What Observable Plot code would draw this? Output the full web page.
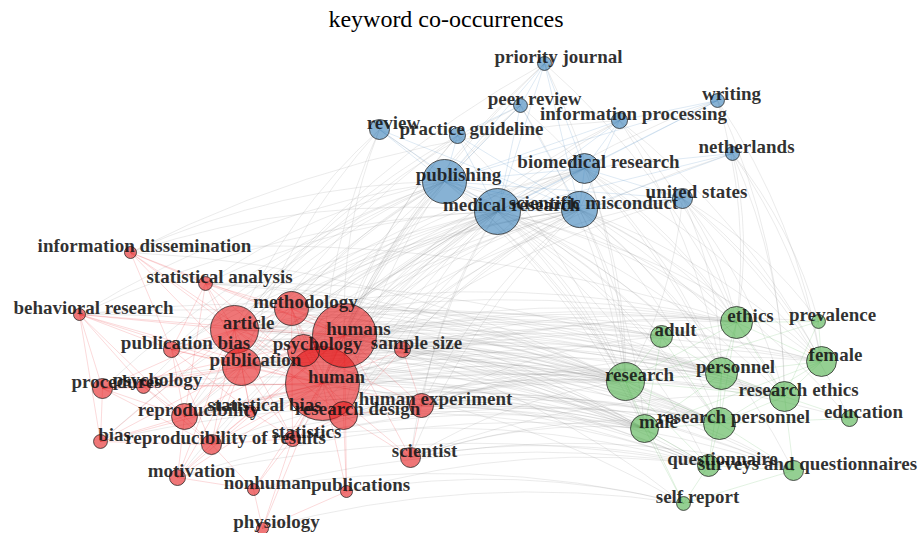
<!DOCTYPE html>
<html>
<head>
<meta charset="utf-8">
<script src="https://cdn.jsdelivr.net/npm/d3@7"></script>
<script src="https://cdn.jsdelivr.net/npm/@observablehq/plot@0.6"></script>
<style>
  html, body { margin: 0; padding: 0; background: #fff; }
  #title { width: 921px; height: 38px; line-height: 38px; box-sizing: border-box; padding-right: 29px;
           text-align: center; font-family: "Liberation Serif", "Times New Roman", serif; font-size: 24px; color: #000; }
  #chart svg { display: block; }
</style>
</head>
<body>
<div id="title">keyword co-occurrences</div>
<div id="chart"></div>
<script>
// ---- data ----
const keywords = [
  "priority journal","peer review","writing","information processing","review","practice guideline",
  "publishing","biomedical research","netherlands","united states","medical research","scientific misconduct",
  "information dissemination","statistical analysis","behavioral research","article","methodology","humans",
  "publication bias","psychology","sample size","publication","human","procedures","psychology",
  "human experiment","research design","statistical bias","reproducibility","statistics","bias",
  "reproducibility of results","scientist","motivation","nonhuman","publications","physiology",
  "adult","ethics","prevalence","female","personnel","research","research ethics","education","male",
  "research personnel","questionnaire","surveys and questionnaires","self report"
];
const cluster = [
  1,1,1,1,1,1,1,1,1,1,1,1,
  2,2,2,2,2,2,2,2,2,2,2,2,2,2,2,2,2,2,2,2,2,2,2,2,2,
  3,3,3,3,3,3,3,3,3,3,3,3,3
];
// layout coordinates from the network layout
const layoutX = [
  544,520,717,619,379,457,444,584,732,682,497,579,
  130,205,79,234,291,344,171,303,402,241,322,102,143,421,343,250,184,292,100,211,410,177,253,346,262,
  661,736,818,821,721,625,784,849,644,719,708,793,683
];
const layoutY = [
  63,105,100,120,129,135,181,168,153,198,211,209,
  252,283,314,329,308,335,349,350,349,366,383,388,386,405,415,411,416,438,441,444,457,477,489,491,528,
  336,322,321,361,373,381,396,418,428,423,465,470,503
];
const occurrences = [
  12,12,12,16,25,16,121,56,12,25,132,81,
  9,12,9,144,72,256,16,64,16,90,342,25,12,36,49,9,42,16,12,25,25,16,9,9,9,
  30,64,12,56,64,90,56,16,49,64,30,25,12
];
const links = [
  // cluster 1
  [0,1],[0,6],[0,10],[0,11],[0,7],[1,6],[1,10],[1,11],[1,5],[2,3],[2,7],[2,10],[2,6],[3,7],[3,10],[3,6],[3,11],
  [4,6],[4,10],[4,11],[5,6],[5,10],[5,11],[6,7],[6,10],[6,11],[6,9],[7,10],[7,11],[7,9],[8,10],[8,11],[8,7],
  [9,10],[9,11],[10,11],
  // cluster 2
  [12,15],[12,21],[12,22],[12,17],[12,13],[12,18],[13,15],[13,21],[13,22],[13,17],[13,16],[13,18],[13,28],
  [14,15],[14,21],[14,22],[14,17],[14,18],[14,23],[14,24],[14,28],[14,30],
  [15,16],[15,17],[15,18],[15,19],[15,21],[15,22],[15,23],[15,24],[15,26],[15,27],[15,28],[15,29],[15,30],[15,31],[15,33],
  [16,17],[16,19],[16,21],[16,22],[16,26],[16,20],[16,29],
  [17,19],[17,20],[17,21],[17,22],[17,25],[17,26],[17,27],[17,28],[17,29],[17,31],[17,32],[17,33],[17,35],[17,23],
  [18,21],[18,22],[18,28],[18,27],[18,31],[19,21],[19,22],[19,26],[19,25],[20,22],[20,26],[20,25],
  [21,22],[21,23],[21,24],[21,27],[21,28],[21,29],[21,31],[21,33],[21,30],
  [22,23],[22,24],[22,25],[22,26],[22,27],[22,28],[22,29],[22,31],[22,32],[22,33],[22,34],[22,35],[22,36],[22,30],
  [23,24],[23,28],[23,30],[23,31],[24,28],[24,31],[25,26],[25,32],[26,29],[26,32],[26,35],[27,28],[27,29],[27,31],
  [28,31],[28,30],[28,33],[29,31],[29,34],[29,36],[30,31],[31,33],[31,34],[33,34],[34,36],[35,36],
  // cluster 3
  [37,38],[37,42],[37,41],[37,45],[37,46],[38,41],[38,42],[38,40],[38,43],[38,46],[38,39],[39,40],[39,43],[39,42],
  [40,41],[40,43],[40,46],[40,45],[41,42],[41,43],[41,45],[41,46],[41,47],[42,45],[42,46],[42,47],[42,43],
  [43,46],[43,44],[43,48],[44,46],[45,46],[45,47],[45,49],[46,47],[46,48],[47,48],[47,49],[48,49],[42,49],
  // between clusters 2 and 3
  [22,37],[22,38],[22,39],[22,40],[22,41],[22,42],[22,43],[22,44],[22,45],[22,46],[22,47],[22,48],[22,49],
  [17,37],[17,38],[17,40],[17,41],[17,42],[17,43],[17,45],[17,46],[17,47],[17,48],[17,49],
  [15,37],[15,38],[15,40],[15,41],[15,42],[15,43],[15,45],[15,46],[15,47],[15,48],
  [21,38],[21,41],[21,42],[21,43],[21,45],[21,46],[21,47],[19,37],[19,38],[19,41],[19,42],[19,45],[19,46],
  [16,38],[16,41],[16,42],[16,43],[26,41],[26,42],[26,46],[26,45],[26,47],[25,37],[25,42],[25,45],[25,46],[25,40],
  [20,37],[20,41],[20,42],[20,38],[32,42],[32,45],[32,46],[32,47],[32,48],[32,43],[28,42],[28,46],[28,43],
  [29,42],[29,46],[18,42],[18,43],[12,42],[14,42],[14,45],[13,41],[23,45],[23,47],[31,46],[35,47],[35,49],[33,45],
  [23,42],[24,42],[27,42],[27,46],[30,45],[31,42],[33,47],[34,47],[34,49],[36,49],[12,38],[13,42],[13,46],[14,41],
  [18,46],[18,45],[16,45],[16,46],[20,45],[20,46],[29,45],[29,47],[28,45],[26,43],[26,48],[25,41],[25,47],[19,43],
  [21,40],[21,48],
  // between clusters 1 and 2
  [22,4],[22,5],[22,6],[22,7],[22,9],[22,10],[22,11],[22,1],[22,0],
  [17,4],[17,5],[17,6],[17,7],[17,9],[17,10],[17,11],[17,0],[17,1],[17,3],
  [15,4],[15,6],[15,7],[15,10],[15,11],[15,0],[15,5],[21,6],[21,10],[21,11],[21,7],[21,4],
  [16,6],[16,10],[16,11],[19,6],[19,10],[19,11],[26,10],[26,11],[26,6],[28,6],[28,10],[28,11],
  [18,6],[18,10],[13,6],[13,10],[12,6],[12,3],[14,6],[32,10],[32,11],[25,10],[25,11],[20,10],[20,11],[29,10],
  [23,6],[24,6],[30,10],[31,10],[27,10],[33,10],[29,11],[18,11],[14,10],[12,10],[26,7],[19,7],[16,7],[22,3],
  [17,2],[22,8],[15,1],[21,5],
  // between clusters 1 and 3
  [10,37],[10,38],[10,41],[10,42],[10,43],[10,45],[10,46],[10,40],[11,38],[11,41],[11,42],[11,43],[11,46],[11,40],[11,45],
  [6,38],[6,41],[6,42],[6,46],[7,38],[7,42],[7,43],[7,41],[7,40],[9,38],[9,40],[9,43],[9,41],[9,42],
  [8,38],[8,43],[8,40],[3,38],[3,40],[2,38],[2,40],[0,42],[1,42],
  [6,37],[6,45],[4,42],[5,42],[0,38],[1,41],[3,41],[2,43],[8,39],[9,39],[9,44],[11,44],[10,47],[11,48]
];
const clusterColors = ["#377EB8", "#E41A1C", "#4DAF4A"];

// ---- build tables ----
const nodes = keywords.map((k, i) => ({
  keyword: k, cluster: cluster[i], x: layoutX[i], y: layoutY[i], occ: occurrences[i]
}));
const edges = links.map(([a, b]) => ({
  x1: layoutX[a], y1: layoutY[a], x2: layoutX[b], y2: layoutY[b],
  same: cluster[a] === cluster[b], cluster: cluster[a]
}));

const chart = Plot.plot({
  width: 921,
  height: 495,
  margin: 0,
  x: {domain: [0, 921], range: [0, 921], axis: null},
  y: {domain: [38, 533], range: [0, 495], axis: null},
  r: {type: "sqrt", domain: [0, 400], range: [0, 40]},
  style: {background: "#fff", overflow: "hidden"},
  marks: [
    Plot.arrow(edges.filter(d => !d.same), {
      x1: "x1", y1: "y1", x2: "x2", y2: "y2", bend: 12, headLength: 0,
      stroke: "#8c8c8c", strokeOpacity: 0.2, strokeWidth: 0.9
    }),
    Plot.link(edges.filter(d => d.same), {
      x1: "x1", y1: "y1", x2: "x2", y2: "y2",
      stroke: d => clusterColors[d.cluster - 1], strokeOpacity: 0.16, strokeWidth: 1
    }),
    Plot.dot(nodes, {
      x: "x", y: "y", r: "occ",
      fill: d => clusterColors[d.cluster - 1], fillOpacity: 0.6,
      stroke: "#222", strokeOpacity: 0.75, strokeWidth: 1
    }),
    Plot.text(nodes, {
      x: "x", y: "y", text: "keyword", dx: 14, dy: -7,
      fontFamily: "Liberation Serif", fontWeight: "bold", fontSize: 19,
      fill: "#141414", fillOpacity: 0.88, textAnchor: "middle", lineAnchor: "middle"
    })
  ]
});
document.getElementById("chart").appendChild(chart);
</script>
</body>
</html>
